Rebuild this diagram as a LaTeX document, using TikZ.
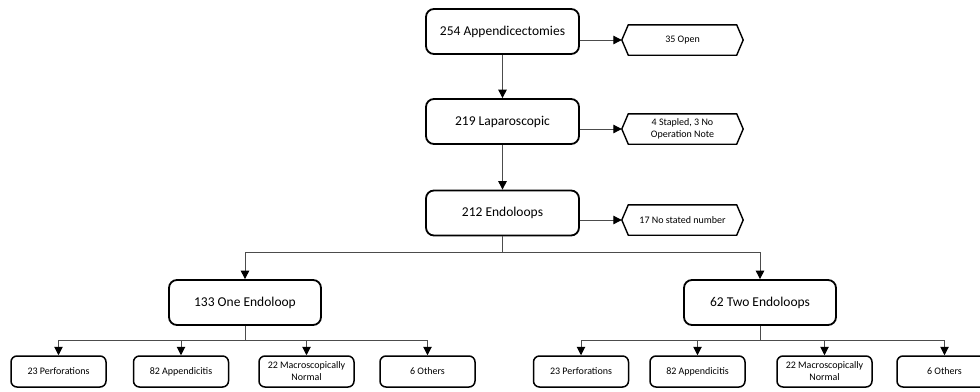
\documentclass[tikz,border=0pt]{standalone}
\usepackage{fontspec}
\setmainfont{Carlito}
\usetikzlibrary{arrows.meta,calc}
\tikzset{
  x=1pt,y=-1pt,
  mainbox/.style={draw=black,line width=1.8pt,rounded corners=8pt,minimum width=153pt,minimum height=45pt,inner sep=0pt,align=center,font=\fontsize{13.5}{16}\selectfont},
  leafbox/.style={draw=black,line width=1.5pt,rounded corners=6pt,minimum width=95pt,minimum height=31pt,inner sep=0pt,align=center,font=\fontsize{10}{12}\selectfont},
  hexbox/.style={minimum width=121pt,minimum height=30pt,inner sep=0pt,align=center,font=\fontsize{10}{12}\selectfont},
  hexline/.style={draw=black,line width=1.4pt,line join=miter},
  link/.style={draw=black!70,line width=1pt},
  conn/.style={link,-{Triangle[length=8.5pt,width=8.5pt,fill=black,color=black]}}
}
\begin{document}
\begin{tikzpicture}
\useasboundingbox (0,0) rectangle (980,391);
\clip (0,0) rectangle (980,391);
\fill[white] (0,0) rectangle (980,391);
% main column
\node[mainbox] (b1) at (502.5,31.5) {254 Appendicectomies};
\node[mainbox] (b2) at (502.5,121.5) {219 Laparoscopic};
\node[mainbox] (b3) at (502.5,213) {212 Endoloops};
% side hexagons
\node[hexbox] (h1) at (682.5,40) {35 Open};
\node[hexbox] (h2) at (682.5,129) {4 Stapled, 3 No\\Operation Note};
\node[hexbox] (h3) at (682.5,220) {17 No stated number};
\foreach \n in {h1,h2,h3}{
  \draw[hexline] (\n.west) -- ([xshift=6.5pt]\n.north west) -- ([xshift=-6.5pt]\n.north east) -- (\n.east) -- ([xshift=-6.5pt]\n.south east) -- ([xshift=6.5pt]\n.south west) -- cycle;
}
% second level
\node[mainbox,minimum width=152pt] (b4) at (245,302.5) {133 One Endoloop};
\node[mainbox,minimum width=152pt] (b5) at (760,302.5) {62 Two Endoloops};
% leaves
\node[leafbox] (l1) at (58.5,371.5) {23 Perforations};
\node[leafbox] (l2) at (181,371.5) {82 Appendicitis};
\node[leafbox] (l3) at (306.5,371.5) {22 Macroscopically\\Normal};
\node[leafbox] (l4) at (427.5,371.5) {6 Others};
\node[leafbox] (r1) at (581,371.5) {23 Perforations};
\node[leafbox] (r2) at (697.5,371.5) {82 Appendicitis};
\node[leafbox] (r3) at (824.5,371.5) {22 Macroscopically\\Normal};
\node[leafbox] (r4) at (944.5,371.5) {6 Others};
% connectors
\draw[conn] (b1) -- (b2);
\draw[conn] (b2) -- (b3);
\draw[conn] (b1.east |- h1.west) -- (h1.west);
\draw[conn] (b2.east |- h2.west) -- (h2.west);
\draw[conn] (b3.east |- h3.west) -- (h3.west);
\draw[link] (b3.south) -- ++(0,16) coordinate (j3);
\draw[conn] (j3) -| (b4.north);
\draw[conn] (j3) -| (b5.north);
\draw[link] (b4.south) -- ++(0,15) coordinate (j4);
\foreach \n in {l1,l2,l3,l4}{ \draw[conn] (j4) -| (\n.north); }
\draw[link] (b5.south) -- ++(0,15) coordinate (j5);
\foreach \n in {r1,r2,r3,r4}{ \draw[conn] (j5) -| (\n.north); }
\end{tikzpicture}
\end{document}
